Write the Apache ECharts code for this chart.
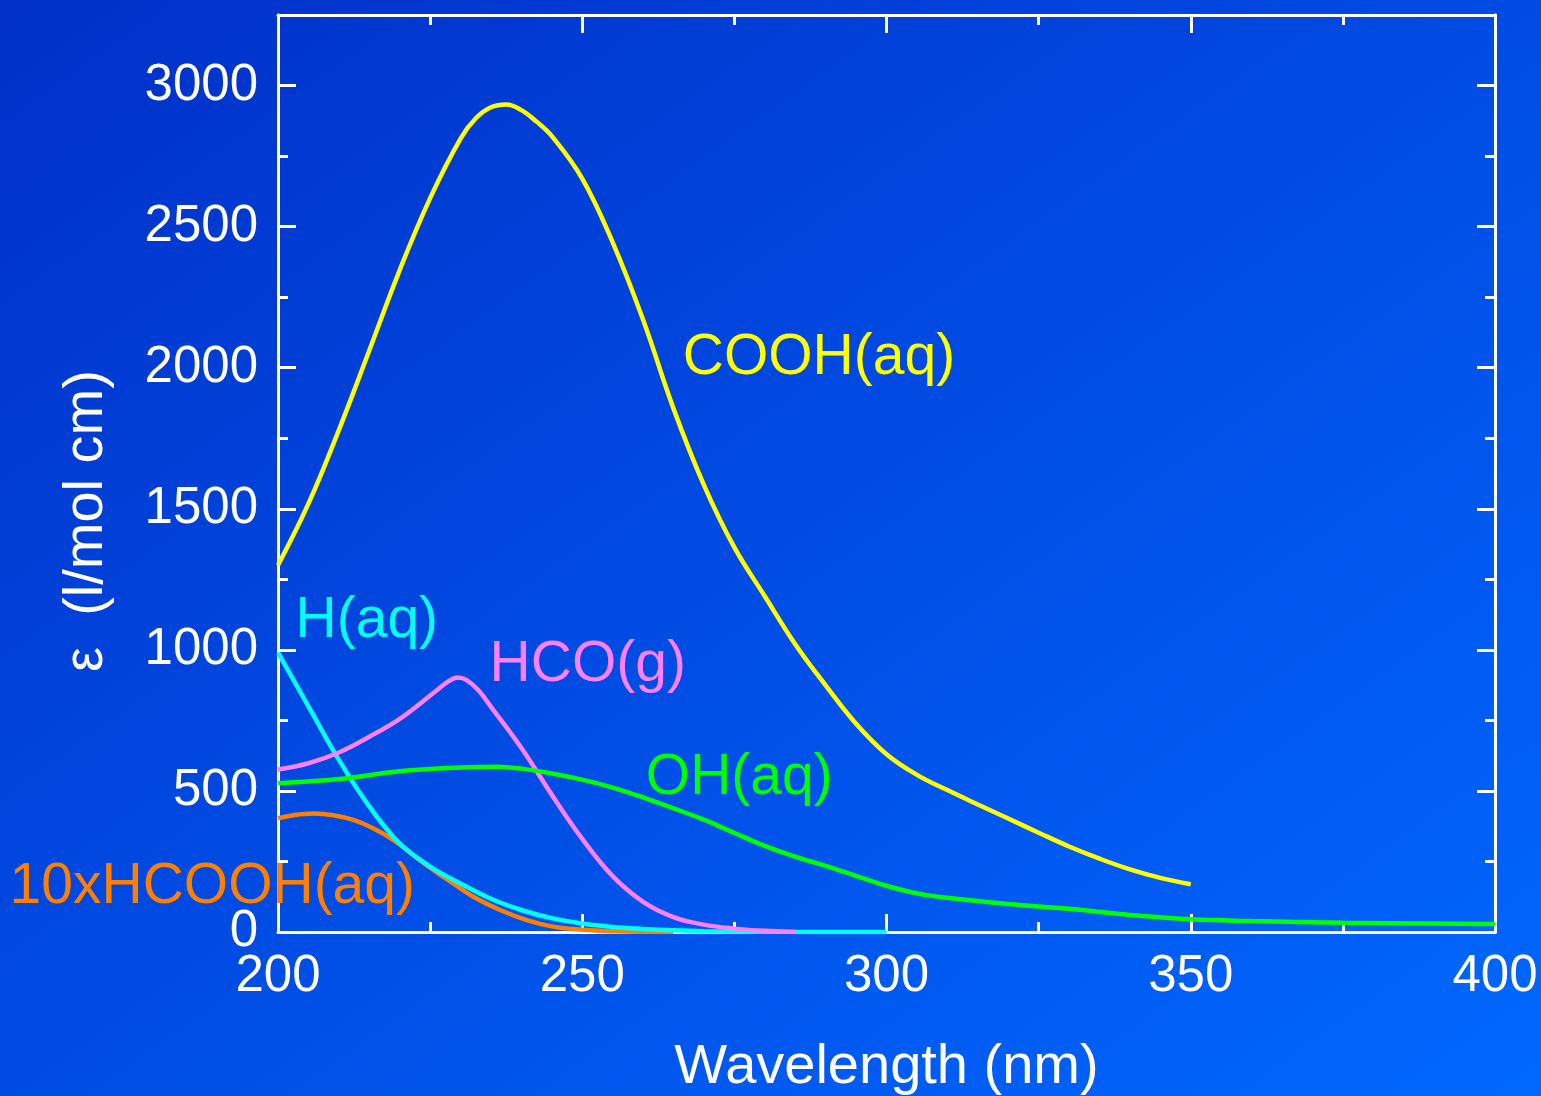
<!DOCTYPE html>
<html>
<head>
<meta charset="utf-8">
<script src="https://cdn.jsdelivr.net/npm/echarts@6/dist/echarts.min.js"></script>
<style>
html,body{margin:0;padding:0;width:1541px;height:1096px;overflow:hidden;
  background:linear-gradient(to bottom right,#0030c8,#0068ff);}
#c{width:1541px;height:1096px;}
</style>
</head>
<body>
<div id="c"></div>
<script>
// ---- data (wavelength nm, epsilon l/mol cm) ----
const coohX = [200, 205, 210, 215, 220, 225, 230, 232.5, 235, 237.5, 240, 242.5, 245, 250, 255, 260, 265, 270, 275, 280, 285, 290, 295, 300, 305, 310, 315, 320, 325, 330, 335, 340, 345, 350];
const coohY = [1300, 1518, 1779, 2061, 2346, 2601, 2812, 2884, 2923, 2933, 2913, 2872, 2821, 2670, 2444, 2170, 1855, 1584, 1363, 1190, 1020, 874, 738, 630, 557, 503, 452, 402, 352, 303, 260, 222, 192, 169];

const hX = [200, 205, 210, 215, 220, 225, 230, 235, 240, 245, 250, 255, 260, 265, 270, 280, 290, 300];
const hY = [990, 800, 610, 445, 314, 232, 172, 118, 78, 49, 30, 18, 11, 6, 3, 1, 0, 0];

const hcoohX = [200, 202.5, 205.8, 209.1, 212.4, 215.7, 219, 222.2, 225.5, 228.8, 232.1, 236.5, 240.9, 245.2, 249.6, 255, 265];
const hcoohY = [403, 414, 420, 414, 397, 367, 326, 273, 220, 172, 125, 78, 42, 19, 9, 3, 0];

const hcoX = [200, 205, 210, 215, 220, 226, 228, 229.5, 231, 233, 235, 240, 245, 250, 255, 260, 265, 270, 275, 280, 285];
const hcoY = [576, 598, 636, 692, 755, 855, 888, 902, 893, 855, 798, 652, 486, 330, 198, 107, 53, 26, 12, 4, 0];

const ohX = [200, 210, 220, 230, 236, 240, 245, 250, 255, 260, 265, 270, 275, 280, 285, 290, 295, 300, 305, 310, 320, 330, 340, 350, 360, 375, 400];
const ohY = [527, 542, 570, 583, 586, 579, 562, 540, 512, 477, 438, 398, 351, 305, 267, 234, 199, 164, 137, 121, 99, 82, 60, 45, 39, 33, 28];

const xTicks = [200, 250, 300, 350, 400];
const yTicks = [0, 500, 1000, 1500, 2000, 2500, 3000];

const seriesNames = ['COOH(aq)', 'H(aq)', 'HCO(g)', 'OH(aq)', '10xHCOOH(aq)'];
const labelAnchorX = [288.9, 214.6, 250.9, 275.8, 189.2];
const labelAnchorY = [2035, 1100, 945, 545, 160];

const colors = ['#ffff00', '#00ffff', '#ff7fff', '#00ff00', '#ff7f00'];
const FONT = '"Liberation Sans", Arial, sans-serif';

function pairs(xs, ys) { return xs.map((x, i) => [x, ys[i]]); }

const chart = echarts.init(document.getElementById('c'), null, {renderer: 'canvas'});

const tickStyle = {color: '#fff', width: 3};
function xAx(pos, showLabel) {
  return {
    type: 'value', position: pos, min: 200, max: 400, interval: 50,
    axisLine: {show: true, onZero: false, lineStyle: {color: '#fff', width: 3}},
    axisTick: {show: true, inside: true, length: 18, lineStyle: tickStyle},
    minorTick: {show: true, splitNumber: 2, length: 10, lineStyle: tickStyle},
    splitLine: {show: false},
    axisLabel: {show: showLabel, color: '#fff', fontSize: 51, fontFamily: FONT, margin: 19,
      formatter: v => xTicks.includes(v) ? String(v) : ''},
    name: showLabel ? 'Wavelength (nm)' : '',
    nameLocation: 'middle', nameGap: 108,
    nameTextStyle: {color: '#fff', fontSize: 56, fontFamily: FONT}
  };
}
function yAx(pos, major, showLabel) {
  return {
    type: 'value', position: pos, min: 0, max: 3250, interval: major ? 500 : 250,
    axisLine: {show: true, onZero: false, lineStyle: {color: '#fff', width: 3}},
    axisTick: {show: true, inside: true, length: major ? 18 : 10, lineStyle: tickStyle},
    splitLine: {show: false},
    axisLabel: {show: showLabel, color: '#fff', fontSize: 51, fontFamily: FONT, margin: 20,
      formatter: v => yTicks.includes(v) ? String(v) : ''}
  };
}

const dataSets = [pairs(coohX, coohY), pairs(hX, hY), pairs(hcoX, hcoY), pairs(ohX, ohY), pairs(hcoohX, hcoohY)];
const order = [4, 1, 2, 3, 0];

chart.setOption({
  backgroundColor: 'transparent',
  animation: false,
  grid: {left: 278, right: 46, top: 15, bottom: 164, containLabel: false, outerBoundsMode: 'none'},
  xAxis: [xAx('bottom', true), xAx('top', false)],
  yAxis: [yAx('left', false, false), yAx('left', true, true), yAx('right', false, false), yAx('right', true, false)],
  series: order.map(i => ({
    name: seriesNames[i], type: 'line', xAxisIndex: 0, yAxisIndex: 1,
    data: dataSets[i], showSymbol: false, smooth: 0.4, clip: true,
    lineStyle: {color: colors[i], width: 4.5}
  }))
});

const labels = seriesNames.map((name, i) => {
  const p = chart.convertToPixel({xAxisIndex: 0, yAxisIndex: 1}, [labelAnchorX[i], labelAnchorY[i]]);
  return {
    type: 'text', x: p[0], y: p[1], z: 100,
    style: {text: name, fill: colors[i], font: '57px ' + FONT, textAlign: 'center', textVerticalAlign: 'middle'}
  };
});
labels.push({
  type: 'text', x: 87, y: 521, rotation: Math.PI / 2, z: 100,
  style: {text: 'ε  (l/mol cm)', fill: '#fff', font: '56px ' + FONT, textAlign: 'center', textVerticalAlign: 'middle'}
});
chart.setOption({graphic: labels});
</script>
</body>
</html>
